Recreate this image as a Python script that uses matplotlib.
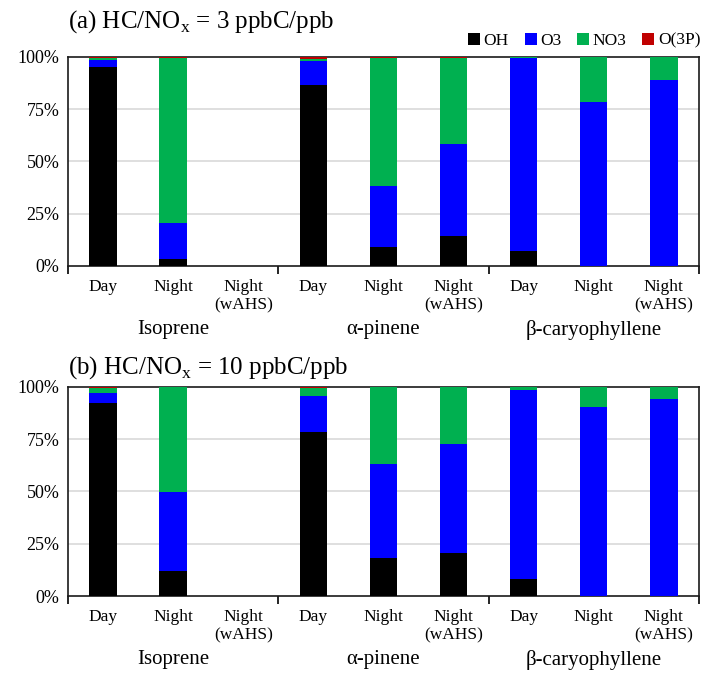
import matplotlib
matplotlib.use("Agg")
import matplotlib.pyplot as plt
from matplotlib.transforms import blended_transform_factory
import numpy as np

plt.rcParams['font.family'] = ['Liberation Serif', 'DejaVu Serif']
plt.rcParams['mathtext.fontset'] = 'custom'
plt.rcParams['mathtext.rm'] = 'Liberation Serif'

# categories
conditions = ["Day", "Night", "Night\n(wAHS)"] * 3
groups = ["Isoprene", "α-pinene", "β-caryophyllene"]
species = ["OH", "O3", "NO3", "O(3P)"]
colors = ["#000000", "#0000FF", "#00B050", "#C00000"]

# (a) HC/NOx = 3 ppbC/ppb, percent
oh_a = [95.0, 3.2, 0, 86.6, 9.0, 14.5, 7.0, 0, 0]
o3_a = [3.5, 17.2, 0, 11.2, 29.3, 43.9, 92.5, 78.5, 89.1]
no3_a = [0.8, 79.2, 0, 1.0, 61.3, 41.2, 0.5, 21.5, 10.9]
o3p_a = [0.7, 0.4, 0, 1.2, 0.4, 0.4, 0, 0, 0]

# (b) HC/NOx = 10 ppbC/ppb, percent
oh_b = [92.1, 12.0, 0, 78.5, 18.0, 20.4, 8.0, 0, 0]
o3_b = [5.2, 37.8, 0, 17.2, 45.0, 52.4, 90.7, 90.4, 94.0]
no3_b = [2.3, 50.0, 0, 3.9, 36.8, 27.0, 1.3, 9.6, 6.0]
o3p_b = [0.4, 0.2, 0, 0.4, 0.2, 0.2, 0, 0, 0]

panels = [
    ("(a) HC/NO$_\\mathregular{x}$ = 3 ppbC/ppb", [oh_a, o3_a, no3_a, o3p_a], 0.6077, 1.167),
    ("(b) HC/NO$_\\mathregular{x}$ = 10 ppbC/ppb", [oh_b, o3_b, no3_b, o3p_b], 0.1209, 1.09),
]

fig = plt.figure(figsize=(7.01, 6.78), dpi=100)
x = np.arange(len(conditions))

for i, (title, series, bottom_pos, title_y) in enumerate(panels):
    ax = fig.add_axes([0.097, bottom_pos, 0.9, 0.3085])
    base = np.zeros(len(conditions))
    for vals, name, c in zip(series, species, colors):
        vals = np.array(vals)
        ax.bar(x, vals, 0.39, bottom=base, color=c, label=name, zorder=3)
        base += vals

    ax.set_xlim(-0.5, 8.5)
    ax.set_ylim(0, 100)
    ax.set_yticks([0, 25, 50, 75, 100])
    ax.set_yticklabels(["0%", "25%", "50%", "75%", "100%"], fontsize=13)
    ax.tick_params(axis='y', length=0, pad=6)
    for g in [25, 50, 75]:
        ax.axhline(g, color="#D9D9D9", lw=1.2, zorder=1)

    ax.set_xticks([-0.5, 2.5, 5.5, 8.5])
    ax.set_xticklabels([])
    ax.tick_params(axis='x', length=6, width=1.2, direction='out')
    for s in ax.spines.values():
        s.set_linewidth(1.2)
        s.set_color("#1a1a1a")

    trans = blended_transform_factory(ax.transData, ax.transAxes)
    for xi, lab in zip(x, conditions):
        ax.text(xi, -0.06, lab, transform=trans, ha='center', va='top',
                fontsize=12.5, linespacing=1.2)
    for k, g in enumerate(groups):
        ax.text(3 * k + 1, -0.26, g, transform=trans, ha='center', va='top',
                fontsize=15)

    ax.text(0.0, title_y, title, transform=ax.transAxes, ha='left',
            va='center', fontsize=18)

    if i == 0:
        ax.legend(loc='lower right', bbox_to_anchor=(1.005, 1.03), ncol=4,
                  frameon=False, fontsize=12.5, handlelength=0.7,
                  handleheight=0.7, handletextpad=0.2, columnspacing=0.9,
                  borderpad=0.1, borderaxespad=0.0)

fig.savefig("out.png", dpi=100)
